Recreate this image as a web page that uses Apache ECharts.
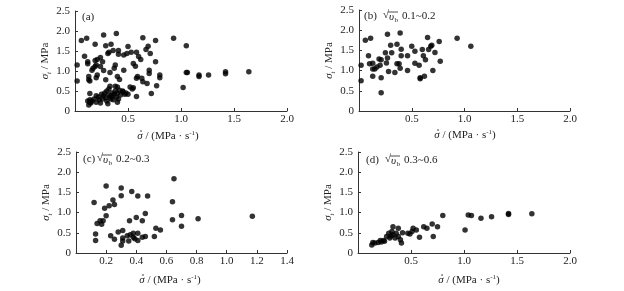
<!DOCTYPE html>
<html>
<head>
<meta charset="utf-8">
<script src="https://cdn.jsdelivr.net/npm/echarts@6/dist/echarts.min.js"></script>
<style>
  html, body { margin: 0; padding: 0; background: #fff; }
  #main { width: 624px; height: 291px; }
</style>
</head>
<body>
<div id="main"></div>
<script>
// [rate, strength] pairs
var panelA = [
  [0.02,1.15],[0.02,0.75],[0.06,1.76],[0.11,1.82],[0.09,1.37],[0.12,1.23],[0.12,1.18],[0.13,0.86],
  [0.13,0.78],[0.14,0.75],[0.14,0.44],[0.14,0.28],[0.13,0.15],[0.16,1.02],[0.17,1.07],[0.19,1.11],
  [0.2,1.15],[0.19,1.26],[0.21,1.29],[0.19,1.67],[0.21,0.9],[0.2,0.83],[0.27,1.9],[0.29,1.63],
  [0.31,1.44],[0.32,1.47],[0.34,1.67],[0.39,1.94],[0.36,1.51],[0.41,1.51],[0.24,1.34],[0.26,1.23],
  [0.27,1.01],[0.24,1.11],[0.33,0.96],[0.38,1.15],[0.37,1.07],[0.4,0.86],[0.42,0.79],[0.41,1.42],
  [0.46,1.02],[0.46,1.4],[0.49,1.44],[0.5,1.61],[0.53,1.47],[0.55,1.19],[0.57,1.12],[0.58,0.82],
  [0.59,0.86],[0.58,1.47],[0.6,1.36],[0.62,1.29],[0.64,1.83],[0.67,1.54],[0.69,1.62],[0.71,1.44],
  [0.76,1.76],[0.76,1.23],[0.7,1.02],[0.7,0.94],[0.68,0.69],[0.63,0.82],[0.64,0.73],[0.77,0.63],
  [0.8,0.9],[0.8,0.83],[0.93,1.82],[1.05,1.63],[1.02,0.59],[1.05,0.96],[1.06,0.96],[1.17,0.9],
  [1.17,0.86],[1.26,0.9],[1.42,0.98],[1.42,0.93],[1.64,0.98],[0.72,0.44],[0.58,0.36],
  [0.15,0.2],[0.16,0.25],[0.18,0.3],[0.2,0.22],[0.22,0.35],[0.23,0.28],[0.25,0.42],[0.26,0.3],
  [0.27,0.38],[0.28,0.45],[0.29,0.33],[0.3,0.5],[0.3,0.25],[0.31,0.18],[0.32,0.4],[0.32,0.55],
  [0.33,0.35],[0.33,0.62],[0.34,0.3],[0.35,0.45],[0.35,0.38],[0.36,0.28],[0.37,0.42],[0.38,0.5],
  [0.39,0.35],[0.4,0.22],[0.4,0.45],[0.41,0.3],[0.43,0.4],[0.45,0.48],[0.47,0.42],[0.48,0.45],
  [0.5,0.42],[0.52,0.6],[0.54,0.55],[0.55,0.58],[0.2,0.38],[0.24,0.2],[0.12,0.25],[0.14,0.22],
  [0.4,0.6],[0.38,0.62],[0.45,0.5],[0.42,0.52],[0.29,0.78]
];
var panelB = [
  [0.02,1.13],[0.02,0.75],[0.06,1.75],[0.11,1.8],[0.09,1.37],[0.1,1.17],[0.13,1.18],[0.13,0.86],
  [0.13,1.04],[0.15,1.04],[0.17,1.09],[0.19,1.29],[0.21,1.27],[0.2,1.13],[0.21,0.82],[0.21,0.45],
  [0.25,1.44],[0.26,1.19],[0.27,1.9],[0.27,1.31],[0.28,0.98],[0.3,1.63],[0.31,1.44],[0.34,0.95],
  [0.36,1.65],[0.36,1.17],[0.38,1.17],[0.39,1.93],[0.4,1.53],[0.4,1.37],[0.39,1.06],[0.46,1.37],
  [0.46,1.0],[0.5,1.6],[0.53,1.48],[0.53,1.18],[0.57,1.13],[0.58,0.8],[0.58,0.82],[0.6,1.52],
  [0.61,1.37],[0.63,1.27],[0.62,0.86],[0.65,1.82],[0.66,1.52],[0.68,1.6],[0.69,1.63],[0.7,1.0],
  [0.72,1.45],[0.76,1.72],[0.77,1.23],[0.93,1.8],[1.06,1.6]
];
var panelC = [
  [0.12,1.25],[0.13,0.47],[0.13,0.31],[0.14,0.73],[0.16,0.8],[0.17,0.71],[0.18,0.8],[0.2,1.66],
  [0.19,1.11],[0.2,0.92],[0.22,1.17],[0.23,0.43],[0.245,1.31],[0.255,1.2],[0.255,0.34],[0.28,0.52],
  [0.3,0.19],[0.3,1.61],[0.3,1.42],[0.31,0.37],[0.31,0.3],[0.31,0.56],[0.34,0.43],[0.355,0.8],
  [0.35,0.3],[0.36,0.45],[0.37,1.52],[0.38,0.49],[0.38,0.39],[0.39,0.35],[0.4,0.88],[0.41,1.41],
  [0.41,0.49],[0.41,0.31],[0.44,0.8],[0.44,0.39],[0.46,0.41],[0.46,0.98],[0.475,1.41],[0.52,0.41],
  [0.53,0.61],[0.56,0.57],[0.64,0.82],[0.64,1.27],[0.65,1.84],[0.7,0.93],[0.7,0.66],[0.81,0.85],
  [1.17,0.91]
];
var panelD = [
  [0.13,0.2],[0.14,0.26],[0.16,0.25],[0.19,0.26],[0.21,0.31],[0.22,0.27],[0.24,0.31],[0.25,0.29],
  [0.27,0.41],[0.29,0.49],[0.3,0.37],[0.31,0.42],[0.32,0.53],[0.33,0.65],[0.33,0.45],[0.35,0.37],
  [0.36,0.49],[0.38,0.61],[0.38,0.41],[0.4,0.33],[0.41,0.25],[0.42,0.5],[0.47,0.49],[0.49,0.47],
  [0.51,0.53],[0.52,0.61],[0.55,0.57],[0.58,0.39],[0.62,0.65],[0.65,0.61],[0.7,0.72],[0.75,0.65],
  [0.71,0.41],[0.8,0.93],[1.01,0.57],[1.04,0.94],[1.07,0.93],[1.16,0.86],[1.26,0.9],[1.42,0.98],
  [1.42,0.95],[1.64,0.97]
];
var yTicks = [0, 0.5, 1.0, 1.5, 2.0, 2.5];
var ranges = ['', '0.1~0.2', '0.2~0.3', '0.3~0.6'];
var tags = ['(a)', '(b)', '(c)', '(d)'];

var font = '"Liberation Serif", "Times New Roman", serif';
var ink = '#222';

var chart = echarts.init(document.getElementById('main'));

var grids = [
  {left: 75, top: 11, width: 212, height: 100},
  {left: 359, top: 10, width: 211, height: 101},
  {left: 76, top: 152, width: 211, height: 101},
  {left: 358, top: 152, width: 212, height: 101}
];

function xAxis(i, max, interval) {
  return {
    gridIndex: i, type: 'value', min: 0, max: max, interval: interval,
    axisLine: {lineStyle: {color: '#333', width: 1}},
    axisTick: {inside: true, length: 3, lineStyle: {color: '#333'}},
    axisLabel: {showMinLabel: false, margin: 3, fontFamily: font, fontSize: 11, color: ink,
      formatter: function (v) { return v.toFixed(1); }},
    splitLine: {show: false}
  };
}

function yAxis(i) {
  return {
    gridIndex: i, type: 'value', min: yTicks[0], max: yTicks[yTicks.length - 1], interval: 0.5,
    name: '{s|σ}{t|t}{n| / MPa}',
    nameLocation: 'middle', nameRotate: 90, nameGap: 22,
    nameTextStyle: {
      fontFamily: font, fontSize: 11, color: ink,
      rich: {
        s: {fontFamily: font, fontSize: 11, fontStyle: 'italic', color: ink, lineHeight: 14},
        t: {fontFamily: font, fontSize: 7, fontStyle: 'italic', color: ink, verticalAlign: 'bottom'},
        n: {fontFamily: font, fontSize: 11, color: ink, lineHeight: 14}
      }
    },
    axisLine: {show: true, lineStyle: {color: '#333', width: 1}},
    axisTick: {show: true, inside: true, length: 3, lineStyle: {color: '#333'}},
    axisLabel: {margin: 5, fontFamily: font, fontSize: 11, color: ink,
      formatter: function (v) { return v === 0 ? '0' : v.toFixed(1); }},
    splitLine: {show: false}
  };
}

// text width helper for the hand-placed titles
var ctx = document.createElement('canvas').getContext('2d');
function tw(str, f) { ctx.font = f; return ctx.measureText(str).width; }

// x title: sigma with a dot on top, then the unit
function xTitle(cx, y) {
  var f = '11px ' + font, fi = 'italic 11px ' + font, fs = '7px ' + font;
  var p1 = ' / (MPa · s', p2 = ')';
  var wS = tw('σ', fi), w1 = tw(p1, f), wSup = tw('-1', fs), w2 = tw(p2, f);
  var x = cx - (wS + w1 + wSup + w2) / 2;
  return [
    {type: 'text', left: x, top: y - 6, style: {text: 'σ', font: fi, fill: ink}},
    {type: 'circle', shape: {cx: x + wS / 2 + 1, cy: y - 6, r: 0.8}, style: {fill: ink}},
    {type: 'text', left: x + wS, top: y - 6, style: {text: p1, font: f, fill: ink}},
    {type: 'text', left: x + wS + w1, top: y - 7, style: {text: '-1', font: fs, fill: ink}},
    {type: 'text', left: x + wS + w1 + wSup, top: y - 6, style: {text: p2, font: f, fill: ink}}
  ];
}

// panel tags with the √υb note
function tagGraphics(i, x, y) {
  var g = [{type: 'text', left: x, top: y - 7,
    style: {text: tags[i], font: '11px ' + font, fill: ink}}];
  if (!ranges[i]) return g;
  var sx = x + (i === 2 ? 14 : 19);
  g.push({type: 'text', left: sx, top: y - 8, style: {text: '√', font: '11px ' + font, fill: ink}});
  g.push({type: 'line', shape: {x1: sx + 5, y1: y - 6, x2: sx + 15, y2: y - 6}, style: {stroke: ink, lineWidth: 0.8}});
  g.push({type: 'text', left: sx + 6, top: y - 6, style: {text: 'υ', font: 'italic 11px ' + font, fill: ink}});
  g.push({type: 'text', left: sx + 11.5, top: y - 1, style: {text: 'b', font: '7px ' + font, fill: ink}});
  g.push({type: 'text', left: sx + 19, top: y - 7, style: {text: ranges[i], font: '11px ' + font, fill: ink}});
  return g;
}

var graphic = []
  .concat(tagGraphics(0, 82, 19))
  .concat(tagGraphics(1, 364, 18))
  .concat(tagGraphics(2, 83, 161))
  .concat(tagGraphics(3, 366, 162))
  .concat(xTitle(168, 137))
  .concat(xTitle(465, 136))
  .concat(xTitle(170, 281))
  .concat(xTitle(469, 281));

var datasets = [panelA, panelB, panelC, panelD];

chart.setOption({
  animation: false,
  backgroundColor: '#fff',
  grid: grids,
  xAxis: [xAxis(0, 2, 0.5), xAxis(1, 2, 0.5), xAxis(2, 1.4, 0.2), xAxis(3, 2, 0.5)],
  yAxis: [yAxis(0), yAxis(1), yAxis(2), yAxis(3)],
  graphic: graphic,
  series: datasets.map(function (d, i) {
    return {
      type: 'scatter', xAxisIndex: i, yAxisIndex: i, data: d,
      symbol: 'circle', symbolSize: 5.5,
      itemStyle: {color: '#000'}
    };
  })
});
</script>
</body>
</html>
